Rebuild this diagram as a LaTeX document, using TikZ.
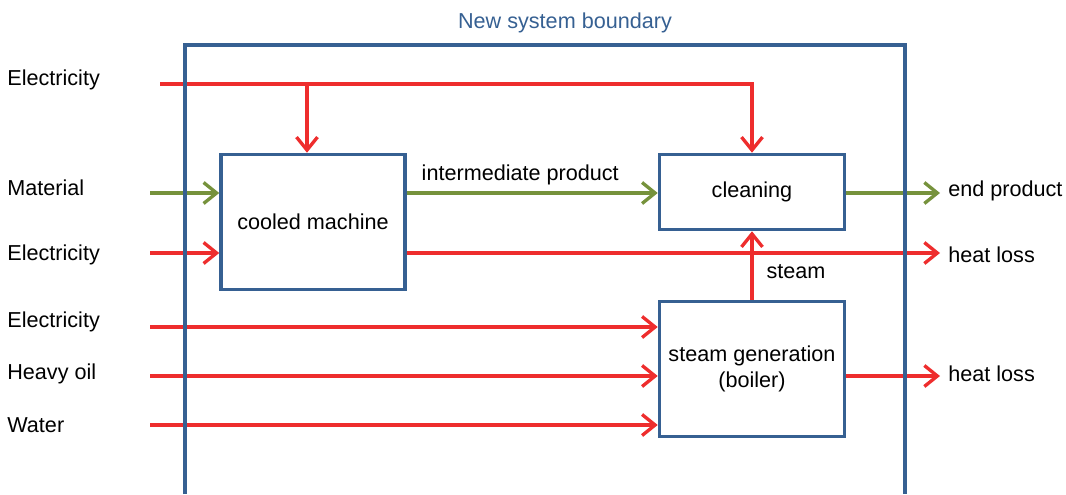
\documentclass[tikz,border=0pt]{standalone}
\usepackage{fontspec}
\setmainfont{Liberation Sans}
\usepackage{tikz}
\usetikzlibrary{arrows.meta}

\definecolor{bndblue}{RGB}{54,96,146}
\definecolor{flowred}{RGB}{238,45,45}
\definecolor{flowgreen}{RGB}{118,146,60}

\tikzset{
  unitbox/.style={draw=bndblue, line width=2pt, align=center, inner sep=2pt},
  power/.style={draw=flowred, line width=1.9pt, -{Straight Barb[length=2.6mm,width=4.2mm]}},
  goods/.style={draw=flowgreen, line width=1.9pt, -{Straight Barb[length=2.6mm,width=4.2mm]}},
  boundary/.style={draw=bndblue, line width=2.3pt},
  lbl/.style={inner sep=0pt}
}

\begin{document}
\begin{tikzpicture}[x=0.2mm, y=-0.2mm, font=\fontsize{12.3}{14.5}\selectfont]
\useasboundingbox (0,0) rectangle (1066,494);

% process units
\node [unitbox, minimum width=36.8mm, minimum height=27mm] (cool) at (313,222) {cooled machine};
\node [unitbox, minimum width=37mm, minimum height=15mm] (clean) at (752,192) {cleaning};
\node [unitbox, minimum width=37mm, minimum height=27mm] (boiler) at (752,369) {steam generation\\(boiler)};
\coordinate (coolin) at ([xshift=-1.2mm]cool.north);

% inputs on the left
\node [lbl, anchor=west] (elA) at (7,80) {Electricity};
\node [lbl, anchor=west] (mat) at (7,188) {Material};
\node [lbl, anchor=west] (elB) at (7,255) {Electricity};
\node [lbl, anchor=west] (elC) at (7,322) {Electricity};
\node [lbl, anchor=west] (oil) at (7,374) {Heavy oil};
\node [lbl, anchor=west] (wat) at (7,425) {Water};
\coordinate (inA) at (160,84);
\coordinate (inM) at (150,193);
\coordinate (inB) at (150,253);
\coordinate (inC) at (150,327);
\coordinate (inO) at (150,376);
\coordinate (inW) at (150,425);

% outputs on the right
\node [lbl, anchor=west] (prod) at (948,191) {end product};
\node [lbl, anchor=west] (lossA) at (948,255) {heat loss};
\node [lbl, anchor=west] (lossB) at (948,374) {heat loss};
\coordinate (outP) at (940,193);
\coordinate (outA) at (940,253);
\coordinate (outB) at (940,376);

% flows
\draw [power] (inA) -| (clean.north);
\draw [power] (inA -| coolin) -- (coolin);
\draw [goods] (inM) -- (inM -| cool.west);
\draw [power] (inB) -- (inB -| cool.west);
\draw [goods] (cool.east |- inM) -- (inM -| clean.west)
  node [midway, above=0pt, xshift=-2.4mm] (mid) {intermediate product};
\draw [goods] (clean.east |- inM) -- (outP);
\draw [power] (cool.east |- inB) -- (outA);
\draw [power] (boiler.north) -- (clean.south)
  node [midway, right=4pt, yshift=-1.2mm] (stm) {steam};
\draw [power] (inC) -- (inC -| boiler.west);
\draw [power] (inO) -- (inO -| boiler.west);
\draw [power] (inW) -- (inW -| boiler.west);
\draw [power] (boiler.east |- inO) -- (outB);

% system boundary
\draw [boundary] (185,494) |- (905,45) -- (905,494);
\node [text=bndblue] (title) at (565,23) {New system boundary};
\end{tikzpicture}
\end{document}
